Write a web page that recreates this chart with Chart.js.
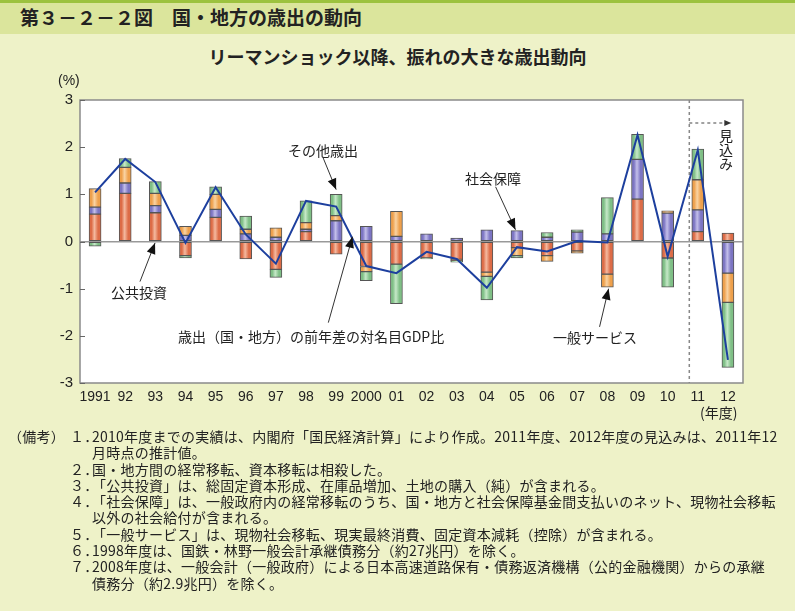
<!DOCTYPE html>
<html lang="ja">
<head>
<meta charset="utf-8">
<script src="https://cdn.jsdelivr.net/npm/chart.js@4"></script>
<style>
  body { margin: 0; }
  #page { position: relative; width: 795px; height: 611px; background: #eef2c8; overflow: hidden; font-family: "Noto Sans CJK JP", sans-serif; color: #222; }
  #band { position: absolute; left: 0; top: 0; width: 795px; height: 34px; background: #dbe59c; border-top: 3px solid #9cc23e; box-sizing: border-box; }
  #title { position: absolute; left: 20px; top: 4px; font-size: 19px; font-weight: bold; line-height: 26px; }
  #subtitle { position: absolute; left: 0; width: 795px; top: 44px; text-align: center; font-size: 18px; font-weight: bold; line-height: 24px; }
  #chart { position: absolute; left: 0; top: 0; }
  .t { position: absolute; font-size: 14px; line-height: 20px; white-space: nowrap; }
  .vert { writing-mode: vertical-rl; line-height: 14px; }
  .ax { font-family: "Liberation Sans", Arial, sans-serif; font-size: 14px; }
  #notes { position: absolute; left: 0; top: 428px; font-size: 14px; line-height: 16.3px; letter-spacing: 0.25px; }
  #notes div { position: relative; height: 16.3px; white-space: nowrap; }
  #notes .k { position: absolute; left: 8px; }
  #notes .n { position: absolute; left: 70px; }
  #notes .x { position: absolute; left: 92px; }
</style>
</head>
<body>
<div id="page">
  <div id="band"></div>
  <div id="title">第３－２－２図　国・地方の歳出の動向</div>
  <div id="subtitle">リーマンショック以降、振れの大きな歳出動向</div>
  <canvas id="chart" width="795" height="611"></canvas>

  <div class="t ax" style="left:58px; top:70px">(%)</div>
  <div class="t" style="left:700px; top:402px">(年度)</div>

  <div class="t" style="left:111px; top:282px">公共投資</div>
  <div class="t" style="left:288px; top:140px">その他歳出</div>
  <div class="t" style="left:178px; top:326px">歳出（国・地方）の前年差の対名目GDP比</div>
  <div class="t" style="left:465px; top:168px">社会保障</div>
  <div class="t" style="left:553px; top:327px">一般サービス</div>
  <div class="t vert" style="left:719px; top:129px">見込み</div>

  <div id="notes">
    <div><span class="k">（備考）</span><span class="n">１．</span><span class="x">2010年度までの実績は、内閣府「国民経済計算」により作成。2011年度、2012年度の見込みは、2011年12</span></div>
    <div><span class="x">月時点の推計値。</span></div>
    <div><span class="n">２．</span><span class="x">国・地方間の経常移転、資本移転は相殺した。</span></div>
    <div><span class="n">３．</span><span class="x">「公共投資」は、総固定資本形成、在庫品増加、土地の購入（純）が含まれる。</span></div>
    <div><span class="n">４．</span><span class="x">「社会保障」は、一般政府内の経常移転のうち、国・地方と社会保障基金間支払いのネット、現物社会移転</span></div>
    <div><span class="x">以外の社会給付が含まれる。</span></div>
    <div><span class="n">５．</span><span class="x">「一般サービス」は、現物社会移転、現実最終消費、固定資本減耗（控除）が含まれる。</span></div>
    <div><span class="n">６．</span><span class="x">1998年度は、国鉄・林野一般会計承継債務分（約27兆円）を除く。</span></div>
    <div><span class="n">７．</span><span class="x">2008年度は、一般会計（一般政府）による日本高速道路保有・債務返済機構（公的金融機関）からの承継</span></div>
    <div><span class="x">債務分（約2.9兆円）を除く。</span></div>
  </div>
</div>

<script>
const years = ["1991","92","93","94","95","96","97","98","99","2000","01","02","03","04","05","06","07","08","09","10","11","12"];

// components, % of nominal GDP
const publicInvest    = [0.58, 1.02, 0.61, -0.30, 0.51, -0.37, -0.59, 0.21, -0.27, -0.53, -0.48, -0.35, -0.38, -0.65, -0.13, -0.30, -0.20, -0.69, 0.90, -0.35, 0.21, 0.18];
const socialSecurity  = [0.15, 0.22, 0.15, 0.13, 0.17, 0.16, 0.09, 0.05, 0.44, 0.32, 0.11, 0.16, 0.07, 0.25, 0.23, 0.09, 0.20, 0.16, 0.84, 0.60, 0.46, -0.67];
const generalServices = [0.39, 0.33, 0.26, 0.19, 0.32, 0.10, 0.20, 0.14, 0.11, -0.11, 0.53, 0.00, -0.02, -0.09, -0.17, -0.12, -0.05, -0.28, 0.00, 0.05, 0.64, -0.62];
const otherSpending   = [-0.10, 0.19, 0.25, -0.05, 0.16, 0.28, -0.17, 0.46, 0.45, -0.19, -0.84, -0.02, -0.04, -0.50, -0.05, 0.10, 0.05, 0.77, 0.53, -0.62, 0.65, -1.38];
const totalChange     = [1.04, 1.75, 1.26, -0.03, 1.15, 0.15, -0.47, 0.86, 0.74, -0.52, -0.67, -0.22, -0.37, -0.98, -0.12, -0.21, 0.01, -0.02, 2.26, -0.32, 1.94, -2.51];

const yMin = -3, yMax = 3;
const forecastFrom = 20; // index of "11"

// label arrows: [tailIndex, tailValue, tipIndex, tipValue]
const arrows = [
  [1.49, -0.85, 1.99, -0.03],
  [7.57, 1.77, 8.0, 1.10],
  [7.74, -1.72, 8.54, 0.10],
  [13.29, 1.16, 13.95, 0.25],
  [16.74, -1.81, 17.04, -1.00]
];

function shade(base, light) {
  return c => {
    const xs = c.chart.scales.x;
    if (!xs || c.type !== "data") return base;
    const x = xs.getPixelForValue(c.dataIndex);
    if (!isFinite(x)) return base;
    const g = c.chart.ctx.createLinearGradient(x - 6, 0, x + 6, 0);
    g.addColorStop(0, base);
    g.addColorStop(0.2, base);
    g.addColorStop(0.45, light);
    g.addColorStop(0.75, base);
    g.addColorStop(1, base);
    return g;
  };
}

function arrowHead(ctx, x1, y1, x2, y2, len, w) {
  const a = Math.atan2(y2 - y1, x2 - x1);
  ctx.beginPath();
  ctx.moveTo(x2, y2);
  ctx.lineTo(x2 - len * Math.cos(a) + w * Math.sin(a), y2 - len * Math.sin(a) - w * Math.cos(a));
  ctx.lineTo(x2 - len * Math.cos(a) - w * Math.sin(a), y2 - len * Math.sin(a) + w * Math.cos(a));
  ctx.closePath();
  ctx.fill();
}

const decor = {
  id: "decor",
  beforeDraw(chart) {
    const { ctx, chartArea: a } = chart;
    ctx.save();
    ctx.fillStyle = "#fff";
    ctx.fillRect(a.left, a.top, a.width, a.height);
    ctx.restore();
  },
  beforeDatasetsDraw(chart) {
    const { ctx, chartArea: a, scales } = chart;
    const x = scales.x.getPixelForValue(forecastFrom) - 8.5;
    ctx.save();
    ctx.strokeStyle = "#888";
    ctx.lineWidth = 1.5;
    ctx.setLineDash([3, 3]);
    ctx.beginPath();
    ctx.moveTo(x, a.top);
    ctx.lineTo(x, a.bottom);
    ctx.stroke();
    ctx.strokeStyle = "#444";
    ctx.lineWidth = 1;
    ctx.beginPath();
    ctx.moveTo(x, a.top + 23);
    ctx.lineTo(x + 36, a.top + 23);
    ctx.stroke();
    ctx.setLineDash([]);
    ctx.fillStyle = "#333";
    arrowHead(ctx, x, a.top + 23, x + 42, a.top + 23, 7, 3);
    ctx.restore();
  },
  afterDatasetsDraw(chart) {
    const { ctx, chartArea: a, scales } = chart;
    ctx.save();
    ctx.strokeStyle = "#8a8a8a";
    ctx.lineWidth = 1.5;
    ctx.strokeRect(a.left, a.top, a.width, a.height);
    ctx.lineWidth = 1;
    ctx.strokeStyle = "#666";
    scales.y.ticks.forEach(t => {
      const y = Math.round(scales.y.getPixelForValue(t.value)) + 0.5;
      ctx.beginPath();
      ctx.moveTo(a.left, y);
      ctx.lineTo(a.left + 5, y);
      ctx.stroke();
    });
    ctx.strokeStyle = "#333";
    ctx.fillStyle = "#111";
    arrows.forEach(([i1, v1, i2, v2]) => {
      const x1 = scales.x.getPixelForValue(i1), y1 = scales.y.getPixelForValue(v1);
      const x2 = scales.x.getPixelForValue(i2), y2 = scales.y.getPixelForValue(v2);
      ctx.beginPath();
      ctx.moveTo(x1, y1);
      ctx.lineTo(x2, y2);
      ctx.stroke();
      arrowHead(ctx, x1, y1, x2, y2, 11, 4.5);
    });
    ctx.restore();
  }
};

const barBase = { type: "bar", borderColor: "#555", borderWidth: 1, borderSkipped: false, barThickness: 12, stack: "parts", order: 1 };

new Chart(document.getElementById("chart"), {
  data: {
    labels: years,
    datasets: [
      { ...barBase, label: "公共投資", data: publicInvest, backgroundColor: shade("#dd6c47", "#f4b99f") },
      { ...barBase, label: "社会保障", data: socialSecurity, backgroundColor: shade("#7c75c3", "#c3bfea") },
      { ...barBase, label: "一般サービス", data: generalServices, backgroundColor: shade("#eea04c", "#f9d3a3") },
      { ...barBase, label: "その他歳出", data: otherSpending, backgroundColor: shade("#7fbf86", "#c6e8c8") },
      { type: "line", label: "歳出（国・地方）の前年差の対名目GDP比", data: totalChange, borderColor: "#1d3f9e", borderWidth: 2, pointRadius: 0, tension: 0, stack: "total", order: 0 }
    ]
  },
  options: {
    responsive: false,
    animation: false,
    layout: { padding: { top: 100, left: 30, right: 52, bottom: 198 } },
    plugins: { legend: { display: false }, tooltip: { enabled: false } },
    scales: {
      x: {
        stacked: true,
        offset: true,
        grid: { display: false, drawTicks: false },
        border: { display: false },
        ticks: { autoSkip: false, maxRotation: 0, minRotation: 0, padding: 6, color: "#222", font: { family: "Liberation Sans", size: 14 } },
        afterFit: s => { s.height = 30; }
      },
      y: {
        stacked: true,
        min: yMin,
        max: yMax,
        grid: { drawTicks: false, color: c => c.tick.value === 0 ? "#999" : "rgba(0,0,0,0)", lineWidth: 1.5 },
        border: { display: false },
        ticks: { stepSize: 1, padding: 7, color: "#222", font: { family: "Liberation Sans", size: 15 } },
        afterFit: s => { s.width = 50; }
      }
    }
  },
  plugins: [decor]
});
</script>
</body>
</html>
